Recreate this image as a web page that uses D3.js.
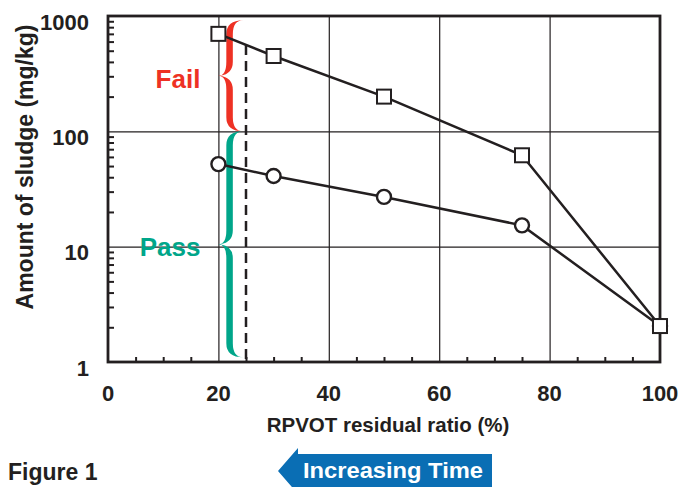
<!DOCTYPE html>
<html>
<head>
<meta charset="utf-8">
<script src="https://cdn.jsdelivr.net/npm/d3@7"></script>
<style>
  body { margin: 0; background: #fff; }
  text { font-family: "Liberation Sans", Arial, Helvetica, sans-serif; font-weight: bold; }
</style>
</head>
<body>
<svg id="chart" width="681" height="487"></svg>
<script>
// data
const ratio = [20, 30, 50, 75, 100];
const sludgeSquare = [700, 450, 200, 62, 2.05];
const sludgeCircle = [52, 41, 27, 15.3, 2.05];
const xTicks = [0, 20, 40, 60, 80, 100];
const yTicks = [1, 10, 100, 1000];
const limitRatio = 25;
const zoneLabels = ['Fail', 'Pass'];
const zoneLow = [100, 1.1];
const zoneHigh = [920, 100];
const zoneColors = ['#ee3124', '#00a68a'];

const ink = '#231f20';
const margin = { top: 16, right: 21, bottom: 125, left: 108 };
const W = 681, H = 487;
const width = W - margin.left - margin.right;
const height = H - margin.top - margin.bottom;

const svg = d3.select('#chart');
const g = svg.append('g').attr('transform', 'translate(' + margin.left + ',' + margin.top + ')');

const x = d3.scaleLinear().domain([0, 100]).range([0, width]);
const y = d3.scaleLog().domain([1, 1000]).range([height, 0]);

// grid
g.append('g')
  .attr('transform', 'translate(0,' + height + ')')
  .call(d3.axisBottom(x).tickValues([20, 40, 60, 80]).tickSize(-height).tickFormat(''))
  .call(a => a.select('.domain').remove())
  .selectAll('line').attr('stroke', ink).attr('stroke-width', 1.2);
g.append('g')
  .call(d3.axisLeft(y).tickValues([10, 100]).tickSize(-width).tickFormat(''))
  .call(a => a.select('.domain').remove())
  .selectAll('line').attr('stroke', ink).attr('stroke-width', 1.2);

// minor ticks (inward)
const xMinor = d3.range(5, 100, 5).filter(v => v % 20 !== 0);
g.append('g')
  .attr('transform', 'translate(0,' + height + ')')
  .call(d3.axisBottom(x).tickValues(xMinor).tickSize(-5).tickFormat(''))
  .call(a => a.select('.domain').remove())
  .selectAll('line').attr('stroke', ink).attr('stroke-width', 2);
const yMinor = [];
[1, 10, 100].forEach(d => { for (let k = 2; k <= 9; k++) yMinor.push(d * k); });
g.append('g')
  .call(d3.axisLeft(y).tickValues(yMinor).tickSize(-6).tickFormat(''))
  .call(a => a.select('.domain').remove())
  .selectAll('line').attr('stroke', ink).attr('stroke-width', 2);

// frame
g.append('rect')
  .attr('width', width).attr('height', height)
  .attr('fill', 'none').attr('stroke', ink).attr('stroke-width', 2.8);

// tick labels
g.selectAll('.xlab').data(xTicks).enter().append('text')
  .attr('x', d => x(d)).attr('y', height + 39)
  .attr('text-anchor', 'middle').attr('font-size', 22).attr('fill', ink)
  .text(d => d);
g.selectAll('.ylab').data(yTicks).enter().append('text')
  .attr('x', -19).attr('y', d => y(d) + 13.5)
  .attr('text-anchor', 'end').attr('font-size', 22).attr('fill', ink)
  .text(d => d);

// axis titles
g.append('text')
  .attr('x', width / 2 + 4).attr('y', height + 70)
  .attr('text-anchor', 'middle').attr('font-size', 20.5).attr('fill', ink)
  .text('RPVOT residual ratio (%)');
svg.append('text')
  .attr('transform', 'translate(33,167) rotate(-90)')
  .attr('text-anchor', 'middle').attr('font-size', 23).attr('fill', ink)
  .text('Amount of sludge (mg/kg)');

// braces
function bracePath(xt, xe, y0, y1, w) {
  const xs = xt + (xe - xt) * 0.45, h = w / 2, ym = (y0 + y1) / 2;
  const ke = 14, km = 14;
  return 'M' + xe + ',' + y0 +
    'Q' + (xs - h) + ',' + y0 + ' ' + (xs - h) + ',' + (y0 + ke) +
    'L' + (xs - h) + ',' + (ym - km) +
    'Q' + (xs - h) + ',' + ym + ' ' + xt + ',' + ym +
    'Q' + (xs - h) + ',' + ym + ' ' + (xs - h) + ',' + (ym + km) +
    'L' + (xs - h) + ',' + (y1 - ke) +
    'Q' + (xs - h) + ',' + y1 + ' ' + xe + ',' + y1 +
    'Q' + (xs + h) + ',' + y1 + ' ' + (xs + h) + ',' + (y1 - ke) +
    'L' + (xs + h) + ',' + (ym + km) +
    'Q' + (xs + h) + ',' + (ym + 2) + ' ' + (xt + 2) + ',' + ym +
    'Q' + (xs + h) + ',' + (ym - 2) + ' ' + (xs + h) + ',' + (ym - km) +
    'L' + (xs + h) + ',' + (y0 + ke) +
    'Q' + (xs + h) + ',' + y0 + ' ' + xe + ',' + y0 + 'Z';
}
zoneLabels.forEach((lab, i) => {
  const y0 = y(zoneHigh[i]), y1 = y(zoneLow[i]);
  g.append('path')
    .attr('d', bracePath(x(20), x(24.5), y0, y1, 6.5))
    .attr('fill', zoneColors[i]);
  g.append('text')
    .attr('x', x(20) - 18).attr('y', (y0 + y1) / 2 + 12)
    .attr('text-anchor', 'end').attr('font-size', 26).attr('fill', zoneColors[i])
    .text(lab);
});

// dashed limit line starting on the square series
const i0 = ratio.findIndex((r, i) => r <= limitRatio && ratio[i + 1] > limitRatio);
const t = (limitRatio - ratio[i0]) / (ratio[i0 + 1] - ratio[i0]);
const yTop = Math.exp(Math.log(sludgeSquare[i0]) * (1 - t) + Math.log(sludgeSquare[i0 + 1]) * t);
g.append('line')
  .attr('x1', x(limitRatio)).attr('x2', x(limitRatio))
  .attr('y1', y(yTop)).attr('y2', height)
  .attr('stroke', ink).attr('stroke-width', 2.5).attr('stroke-dasharray', '10,6');

// series
const line = d3.line().x(d => x(d[0])).y(d => y(d[1]));
const sq = ratio.map((r, i) => [r, sludgeSquare[i]]);
const ci = ratio.map((r, i) => [r, sludgeCircle[i]]);
[sq, ci].forEach(s => {
  g.append('path').datum(s).attr('d', line)
    .attr('fill', 'none').attr('stroke', ink).attr('stroke-width', 2.5);
});
g.selectAll('.circ').data(ci).enter().append('circle')
  .attr('cx', d => x(d[0])).attr('cy', d => y(d[1])).attr('r', 7)
  .attr('fill', '#fff').attr('stroke', ink).attr('stroke-width', 2.4);
g.selectAll('.sq').data(sq).enter().append('rect')
  .attr('x', d => x(d[0]) - 7).attr('y', d => y(d[1]) - 7)
  .attr('width', 14).attr('height', 14)
  .attr('fill', '#fff').attr('stroke', ink).attr('stroke-width', 2);

// footer
svg.append('text')
  .attr('x', 8).attr('y', 480).attr('font-size', 23).attr('fill', ink)
  .text('Figure 1');
svg.append('path')
  .attr('d', 'M278,471 L298,448 L298,454 L492,454 L492,488 L298,488 L298,494 Z')
  .attr('fill', '#0a6eb4');
svg.append('text')
  .attr('x', 303).attr('y', 478).attr('font-size', 22).attr('fill', '#fff')
  .attr('textLength', 180).attr('lengthAdjust', 'spacingAndGlyphs')
  .text('Increasing Time');
</script>
</body>
</html>
